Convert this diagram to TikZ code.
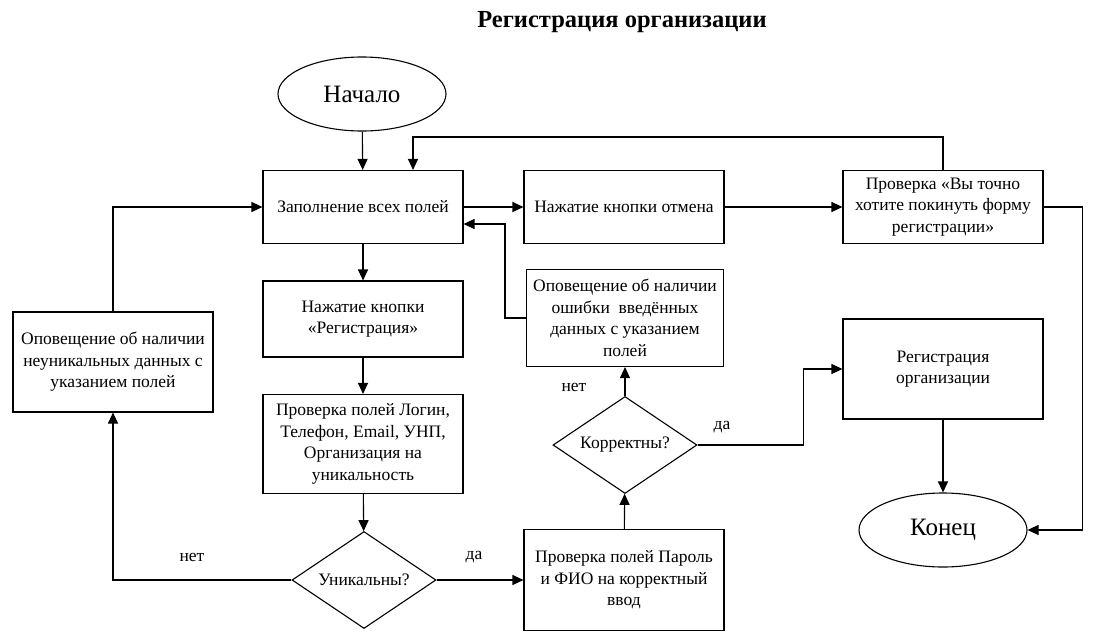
\documentclass[tikz,border=0pt]{standalone}
\usepackage{fontspec}
\setmainfont{Liberation Serif}
\usetikzlibrary{shapes.geometric, arrows.meta}

\begin{document}
\begin{tikzpicture}[x=1pt,y=-1pt,
    box/.style={draw, line width=1.1pt, rectangle, minimum width=200pt, minimum height=73pt,
        inner sep=2pt, align=center, font=\fontsize{17.5}{21.5}\selectfont},
    cond/.style={draw, line width=1.1pt, diamond, aspect=1.48, minimum width=144pt, minimum height=97pt,
        inner sep=0pt, align=center, font=\fontsize{17.5}{21.5}\selectfont},
    term/.style={draw, line width=1.1pt, ellipse, minimum width=168pt, minimum height=74pt,
        font=\fontsize{25}{28}\selectfont},
    arr/.style={line width=1.1pt, -{Triangle[length=11pt,width=10pt]}},
    lbl/.style={font=\fontsize{17.5}{20}\selectfont}]
    \useasboundingbox (0,0) rectangle (1100,640);

    %% title
    \node[font=\bfseries\fontsize{24.5}{28}\selectfont] (title) at (622,22) {Регистрация организации};

    %% main column
    \node[term] (start) at (362,94) {Начало};
    \node[box] (fill) at (363,207) {Заполнение всех полей};
    \node[box, minimum height=76pt] (regbtn) at (363,319) {Нажатие кнопки\\«Регистрация»};
    \node[box, minimum height=99pt] (uniqcheck) at (363,444) {Проверка полей Логин,\\Телефон, Email, УНП,\\Организация на\\уникальность};
    \node[cond] (unique) at (364,580) {Уникальны?};

    %% left column
    \node[box, minimum height=100pt] (uniqmsg) at (113,362) {Оповещение об наличии\\неуникальных данных с\\указанием полей};

    %% middle column
    \node[box] (cancel) at (624,207) {Нажатие кнопки отмена};
    \node[box, minimum width=197pt, minimum height=97pt] (errmsg) at (625,318) {Оповещение об наличии\\ошибки~ введённых\\данных с указанием\\полей};
    \node[cond] (correct) at (625,445) {Корректны?};
    \node[box, minimum height=101pt] (pwcheck) at (624,580) {Проверка полей Пароль\\и ФИО на корректный\\ввод};

    %% right column
    \node[box] (confirm) at (943,207) {Проверка «Вы точно\\хотите покинуть форму\\регистрации»};
    \node[box, minimum height=100pt] (regorg) at (943,369) {Регистрация\\организации};
    \node[term] (finish) at (943,530) {Конец};

    %% connectors
    \draw[arr] (start) -- (fill);
    \draw[arr] (fill) -- (regbtn);
    \draw[arr] (regbtn) -- (uniqcheck);
    \draw[arr] (uniqcheck) -- (unique);
    \draw[arr] (fill) -- (cancel);
    \draw[arr] (cancel) -- (confirm);
    \draw[arr] (confirm.north) -- ++(0,-33) -| ([xshift=50pt]fill.north);
    \draw[arr] (confirm.east) -- ++(39,0) |- (finish.east);
    \draw[arr] (errmsg.west) -- ++(-21,0) |- ([yshift=-17pt]fill.east);
    \draw[arr] (unique.west) -| (uniqmsg.south);
    \draw[arr] (uniqmsg.north) |- (fill.west);
    \draw[arr] (unique.east) -- (pwcheck.west);
    \draw[arr] (pwcheck) -- (correct);
    \draw[arr] (correct) -- (errmsg);
    \draw[arr] (correct.east) -- ++(106,0) |- (regorg.west);
    \draw[arr] (regorg) -- (finish);

    %% labels
    \node[lbl] (no1) at (192,557) {нет};
    \node[lbl] (yes1) at (474,557) {да};
    \node[lbl] (no2) at (574,387) {нет};
    \node[lbl] (yes2) at (722,427) {да};
\end{tikzpicture}
\end{document}
